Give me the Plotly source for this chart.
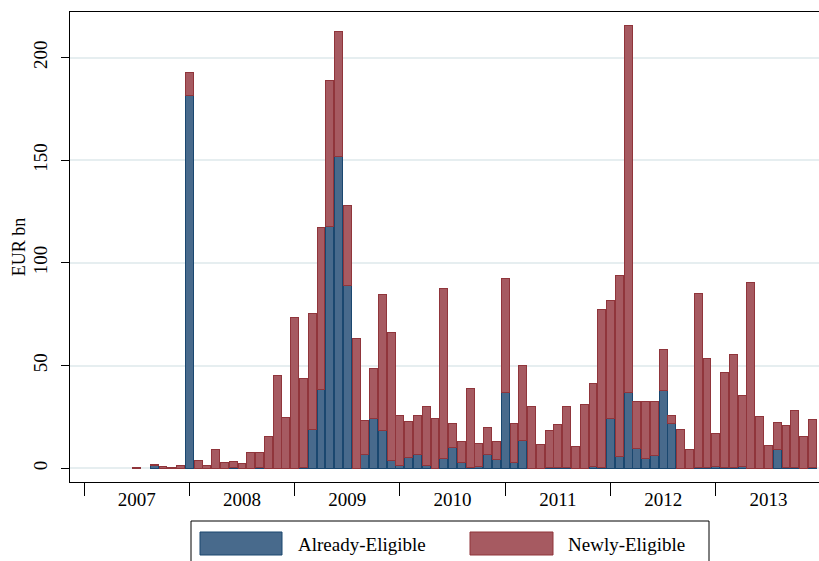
import plotly.graph_objects as go

# Monthly index: 0 = 2007m1 ... 83 = 2013m12
months = list(range(84))
years = ["2007", "2008", "2009", "2010", "2011", "2012", "2013"]
year_starts = [0, 12, 24, 36, 48, 60, 72]
year_mids = [6, 18, 30, 42, 54, 66, 78]

already = [
    0, 0, 0, 0, 0, 0, 0, 0, 1.2, 0, 0, 0,                        # 2007
    181.4, 0, 0, 0, 0, 0.5, 0, 0, 0.3, 0, 0, 0,                   # 2008
    0, 0.5, 19.0, 38.2, 117.9, 151.6, 89.2, 0, 6.5, 24.0, 18.3, 3.9,   # 2009
    1.5, 5.4, 6.8, 1.5, 0, 4.9, 10.0, 2.9, 0.5, 1.0, 6.8, 4.4,    # 2010
    37.0, 2.6, 13.3, 0, 0, 0.3, 0.5, 0.3, 0, 0, 1.0, 0.3,         # 2011
    24.0, 5.8, 37.0, 9.6, 4.9, 6.0, 38.0, 21.6, 0, 0, 0.3, 0.5,   # 2012
    0.8, 0.3, 0.3, 0.8, 0, 0, 0, 8.9, 0.3, 0.3, 0, 0.3,           # 2013
]

newly = [
    0, 0, 0, 0, 0, 0, 0.5, 0, 0.6, 0.7, 0.4, 1.5,                 # 2007
    11.1, 3.7, 1.2, 9.2, 2.8, 2.6, 2.2, 7.6, 7.3, 15.3, 45.3, 24.8,  # 2008
    73.6, 43.2, 56.2, 78.9, 71.0, 60.9, 38.6, 63.2, 16.6, 24.7, 66.5, 62.4,  # 2009
    24.1, 17.5, 18.7, 28.7, 24.4, 82.6, 11.9, 10.3, 38.1, 11.0, 13.2, 8.8,   # 2010
    55.3, 19.0, 36.7, 30.2, 11.4, 18.2, 20.6, 29.6, 10.5, 31.2, 40.1, 76.8,  # 2011
    57.5, 88.1, 178.5, 23.0, 27.7, 26.6, 19.6, 4.0, 18.7, 8.9, 84.6, 52.9,   # 2012
    15.9, 46.1, 55.1, 34.6, 90.6, 25.0, 10.9, 13.5, 20.3, 27.8, 15.7, 23.6,  # 2013
]

FONT = "Liberation Serif"
BLUE_FILL = "rgb(72,106,140)"
BLUE_LINE = "rgb(26,71,111)"
RED_FILL = "rgb(166,90,97)"
RED_LINE = "rgb(144,53,59)"


def nz(values):
    # months without issuance draw no bar at all
    return [v if v > 0 else None for v in values]


fig = go.Figure()
fig.add_trace(go.Bar(x=months, y=nz(already), name="Already-Eligible",
                     marker=dict(color=BLUE_FILL, line=dict(color=BLUE_LINE, width=1))))
fig.add_trace(go.Bar(x=months, y=nz(newly), name="Newly-Eligible",
                     marker=dict(color=RED_FILL, line=dict(color=RED_LINE, width=1))))

fig.update_layout(
    width=819, height=561,
    barmode="stack", bargap=0.1,
    showlegend=False,
    paper_bgcolor="white", plot_bgcolor="white",
    margin=dict(l=70, r=0, t=12, b=79),
    font=dict(family=FONT, size=18, color="black"),
)

fig.update_xaxes(
    range=[-1.6, 83.76], automargin=False,
    tickmode="array", tickvals=year_mids, ticktext=years, ticks="",
    tickfont=dict(size=19),
    minor=dict(tickmode="array", tickvals=year_starts, ticks="outside",
               ticklen=13, tickcolor="black", tickwidth=1, showgrid=False),
    showline=True, linecolor="black", linewidth=1, mirror=True,
    showgrid=False, zeroline=False,
)

fig.update_yaxes(
    range=[-6.7, 222.2], automargin=False,
    tickmode="array", tickvals=[0, 50, 100, 150, 200],
    ticks="outside", ticklen=8, tickcolor="black",
    tickangle=-90, tickfont=dict(size=19), ticklabelstandoff=6,
    showline=True, linecolor="black", linewidth=1,
    showgrid=True, gridcolor="#E6EEF0", gridwidth=1.5, zeroline=False,
    title=dict(text="EUR bn", font=dict(size=18), standoff=0),
)

# Manual legend (box, swatches, labels)
def px_x(X):
    return (X - 70) / 749.0

def px_y(Y):
    return (482 - Y) / 470.0

fig.add_shape(type="rect", xref="paper", yref="paper",
              x0=px_x(191), x1=px_x(709), y0=px_y(600), y1=px_y(521),
              line=dict(color="black", width=1), fillcolor="white", layer="above")
fig.add_shape(type="rect", xref="paper", yref="paper",
              x0=px_x(200), x1=px_x(282), y0=px_y(555), y1=px_y(532),
              line=dict(color=BLUE_LINE, width=1), fillcolor=BLUE_FILL)
fig.add_shape(type="rect", xref="paper", yref="paper",
              x0=px_x(470), x1=px_x(553), y0=px_y(555), y1=px_y(532),
              line=dict(color=RED_LINE, width=1), fillcolor=RED_FILL)
fig.add_annotation(xref="paper", yref="paper", x=px_x(296), y=px_y(544),
                   text="Already-Eligible", showarrow=False, xanchor="left", yanchor="middle",
                   font=dict(size=19))
fig.add_annotation(xref="paper", yref="paper", x=px_x(566), y=px_y(544),
                   text="Newly-Eligible", showarrow=False, xanchor="left", yanchor="middle",
                   font=dict(size=19))

fig.write_html("out.html", config={"displayModeBar": False},
               post_script="document.body.style.margin='0px';document.body.style.overflow='hidden';")
